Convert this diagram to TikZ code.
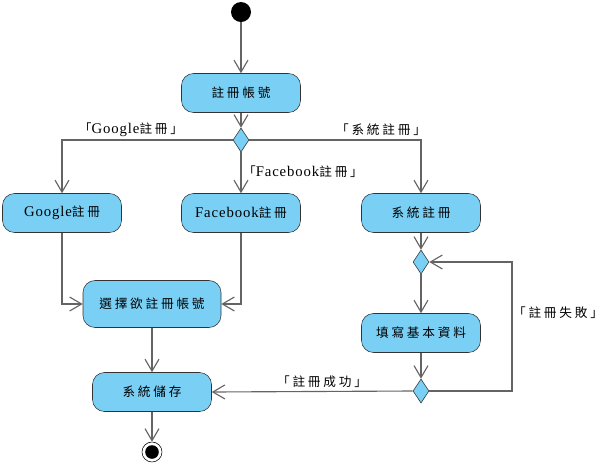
\documentclass[tikz,border=0pt]{standalone}
\usepackage{fontspec}
\usepackage{tikz}
\usepackage{xcolor}
\usetikzlibrary{arrows.meta,shapes.geometric}
\newfontfamily\cjk[LetterSpace=22]{Noto Sans CJK TC}
\newfontfamily\latin[LetterSpace=6]{Liberation Serif}
\definecolor{actfill}{RGB}{122,207,245}
\definecolor{flowline}{RGB}{100,100,100}
\tikzset{
    activity/.style={draw=black!80, fill=actfill, rounded corners=0.3cm, minimum width=2.975cm, minimum height=0.975cm, font=\cjk\fontsize{9}{11}\selectfont},
    choice/.style={diamond, draw=black!80, fill=actfill, inner sep=0pt, minimum width=0.4cm, minimum height=0.6cm},
    guard/.style={font=\cjk\fontsize{9}{11}\selectfont, inner sep=1pt},
    flow/.style={draw=flowline, line width=0.8pt, -{Straight Barb[length=3mm,width=3.5mm]}}
}
\newcommand{\lat}[1]{{\latin\fontsize{10.5}{12}\selectfont #1}}

\begin{document}
\begin{tikzpicture}
                \useasboundingbox (0, 0) rectangle (15.15, -11.65);
                \node[circle, fill=black, minimum size=0.5cm, inner sep=0pt] (start) at (6.025, -0.3) {};
                \node[activity] (register) at (6.025, -2.325) {註冊帳號};
                \node[choice] (pick) at (6.025, -3.5) {};
                \node[activity] (google) at (1.55, -5.325) {\lat{Google}註冊};
                \node[activity] (facebook) at (6.025, -5.325) {\lat{Facebook}註冊};
                \node[activity] (system) at (10.525, -5.325) {系統註冊};
                \node[choice] (merge) at (10.525, -6.55) {};
                \node[activity, minimum width=3.45cm, minimum height=1.175cm] (select) at (3.8, -7.6) {選擇欲註冊帳號};
                \node[activity] (fillin) at (10.525, -8.325) {填寫基本資料};
                \node[activity] (store) at (3.8, -9.8) {系統儲存};
                \node[choice] (check) at (10.525, -9.775) {};
                \node[circle, draw=black, fill=white, minimum size=0.5cm, inner sep=0pt] (final) at (3.8, -11.3) {};
                \node[circle, fill=black, minimum size=0.34cm, inner sep=0pt] (finaldot) at (final) {};
                \coordinate (loop) at (12.8, -9.775);
                \node[guard] (gGoogle) at (3.275, -3.25) {「\lat{Google}註冊」};
                \node[guard] (gSystem) at (9.525, -3.25) {「系統註冊」};
                \node[guard] (gFacebook) at (7.575, -4.3) {「\lat{Facebook}註冊」};
                \node[guard] (gFail) at (13.95, -7.825) {「註冊失敗」};
                \node[guard] (gSuccess) at (8.05, -9.55) {「註冊成功」};
                \draw[flow] (start) -- (register);
                \draw[flow] (register) -- (pick);
                \draw[flow] (pick.west) -| (google.north);
                \draw[flow] (pick) -- (facebook);
                \draw[flow] (pick.east) -| (system.north);
                \draw[flow] (google.south) |- (select.west);
                \draw[flow] (facebook.south) |- (select.east);
                \draw[flow] (system) -- (merge);
                \draw[flow] (merge) -- (fillin);
                \draw[flow] (fillin) -- (check);
                \draw[flow] (check.east) -- (loop) |- (merge.east);
                \draw[flow] (check.west) -- (store.east);
                \draw[flow] (select) -- (store);
                \draw[flow] (store) -- (final);
            \end{tikzpicture}
\end{document}
